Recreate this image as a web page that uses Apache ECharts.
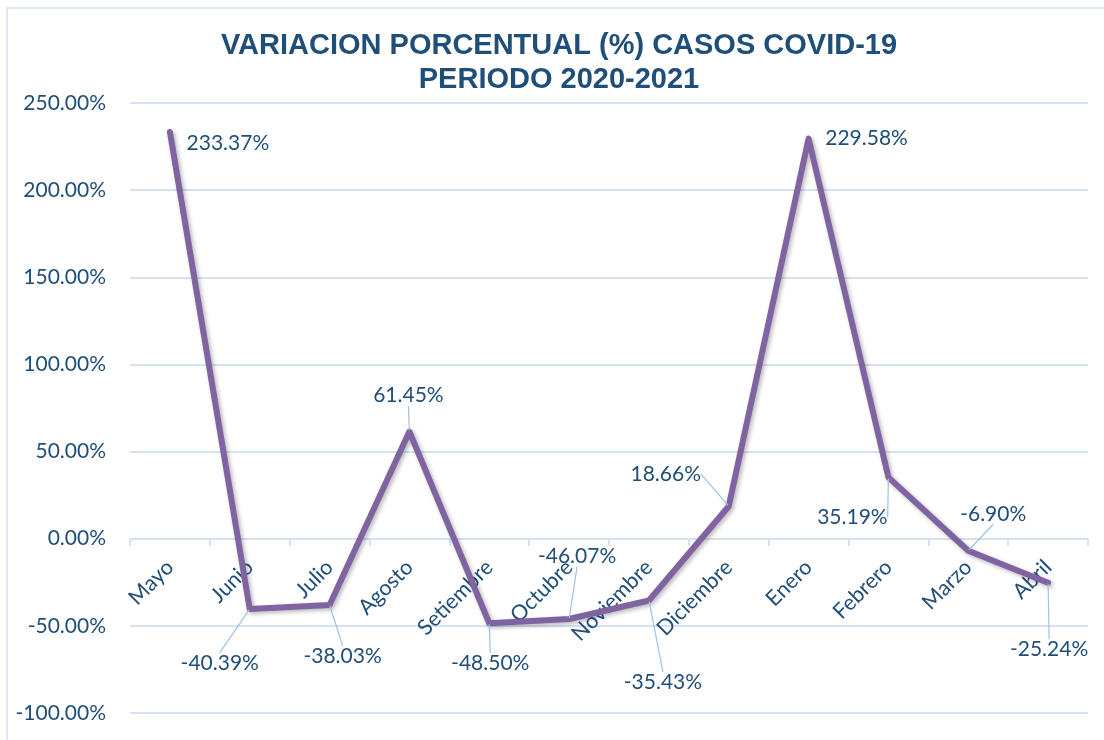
<!DOCTYPE html>
<html>
<head>
<meta charset="utf-8">
<script src="https://cdn.jsdelivr.net/npm/echarts@6/dist/echarts.min.js"></script>
<style>
  html, body { margin: 0; padding: 0; background: #ffffff; }
  #chart { width: 1104px; height: 740px; }
</style>
</head>
<body>
<div id="chart"></div>
<script>
// Monthly percentage change in COVID-19 cases, May 2020 - April 2021
const months = ['Mayo', 'Junio', 'Julio', 'Agosto', 'Setiembre', 'Octubre',
  'Noviembre', 'Diciembre', 'Enero', 'Febrero', 'Marzo', 'Abril'];
const variation = [233.37, -40.39, -38.03, 61.45, -48.50, -46.07,
  -35.43, 18.66, 229.58, 35.19, -6.90, -25.24];
const yTicks = { min: -100, max: 250, step: 50 };

// label placement around each point (pixel offsets from the point)
const labelDx = [58, -30, 13, -1, 1, 8, 14, -63, 58, -36, 25, 1];
const labelDy = [11, 54, 51, -36, 40, -63, 82, -32, 0, 40, -37, 67];
const noLeader = [0, 8];

const TEXT = '#1F4E79';
const GRID = '#D6E2F3';
const FONT = 'Lato';

const W = 1104, H = 740;
const gridBox = { left: 130, right: 16, top: 103, bottom: 27 };
// lift the category axis (line, ticks and labels) up to the 0% level
const plotHeight = H - gridBox.top - gridBox.bottom;
const zeroShift = -plotHeight * (0 - yTicks.min) / (yTicks.max - yTicks.min);

const chart = echarts.init(document.getElementById('chart'), null, { renderer: 'canvas' });

const seriesData = variation.map((v, i) => {
  const item = { value: v };
  if (noLeader.includes(i)) item.labelLine = { show: false };
  return item;
});

chart.setOption({
  animation: false,
  backgroundColor: '#ffffff',
  graphic: [
    {
      type: 'rect', silent: true, z: -10,
      shape: { x: 7, y: 8, width: 1200, height: 800 },
      style: { fill: 'none', stroke: '#DCE6F4', lineWidth: 2 }
    },
    {
      type: 'text', x: 559, y: 46,
      style: {
        text: 'VARIACION PORCENTUAL (%) CASOS COVID-19',
        font: 'bold 29px "Liberation Sans", Arial, sans-serif',
        fill: TEXT, align: 'center', verticalAlign: 'middle'
      }
    },
    {
      type: 'text', x: 559, y: 80,
      style: {
        text: 'PERIODO 2020-2021',
        font: 'bold 29px "Liberation Sans", Arial, sans-serif',
        fill: TEXT, align: 'center', verticalAlign: 'middle'
      }
    }
  ],
  grid: Object.assign({ containLabel: false, outerBoundsMode: 'none' }, gridBox),
  xAxis: {
    type: 'category',
    data: months,
    boundaryGap: true,
    offset: zeroShift,
    axisLine: { show: true, onZero: false, lineStyle: { color: GRID, width: 2 } },
    axisTick: { show: true, length: 7, lineStyle: { color: GRID, width: 2 } },
    axisLabel: {
      rotate: 45, margin: 25, color: TEXT,
      fontFamily: FONT, fontSize: 21.5, interval: 0
    },
    splitLine: { show: false }
  },
  yAxis: {
    type: 'value',
    min: yTicks.min, max: yTicks.max, interval: yTicks.step,
    axisLine: { show: false },
    axisTick: { show: false },
    axisLabel: {
      margin: 24, color: TEXT, fontFamily: FONT, fontSize: 21,
      formatter: v => v.toFixed(2) + '%'
    },
    splitLine: { show: true, lineStyle: { color: GRID, width: 2 } }
  },
  series: [{
    type: 'line',
    data: seriesData,
    symbol: 'circle',
    symbolSize: 2,
    showSymbol: true,
    itemStyle: { color: '#8064A2' },
    lineStyle: {
      color: '#8064A2', width: 6, join: 'round', cap: 'round',
      shadowColor: 'rgba(0,0,0,0.28)', shadowBlur: 4, shadowOffsetX: 2, shadowOffsetY: 2
    },
    label: {
      show: true, position: 'inside', color: TEXT,
      fontFamily: FONT, fontSize: 21,
      formatter: p => p.value.toFixed(2) + '%'
    },
    labelLine: { show: true, lineStyle: { color: '#9DC3E6', width: 1.2 } },
    labelLayout: p => ({ dx: labelDx[p.dataIndex], dy: labelDy[p.dataIndex] })
  }]
});
</script>
</body>
</html>
